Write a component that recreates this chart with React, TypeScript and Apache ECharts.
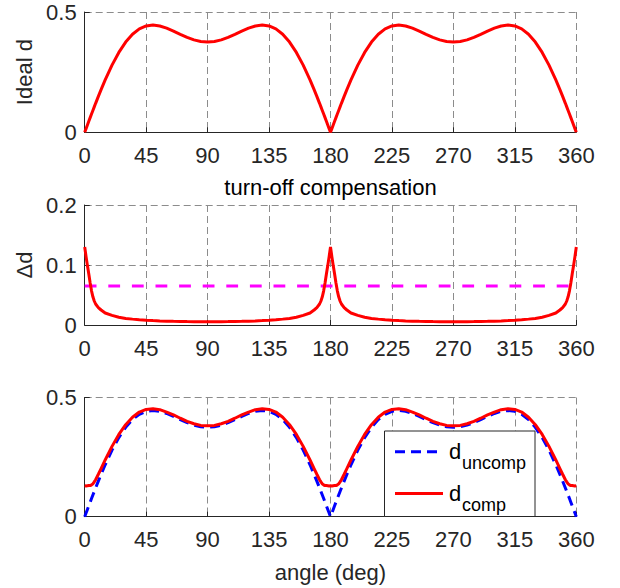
import React, { useEffect, useRef } from "react";
import * as echarts from "echarts";

// angle samples (deg)
const angles = [
  0, 1, 2, 3, 4, 5, 6, 7, 8, 10, 12, 15, 20, 25, 30, 35, 40, 45, 50, 55, 60, 65, 70, 75, 80, 85, 90,
  95, 100, 105, 110, 115, 120, 125, 130, 135, 140, 145, 150, 155, 160, 165, 168, 170, 172, 173, 174,
  175, 176, 177, 178, 179, 180,
  181, 182, 183, 184, 185, 186, 187, 188, 190, 192, 195, 200, 205, 210, 215, 220, 225, 230, 235, 240,
  245, 250, 255, 260, 265, 270, 275, 280, 285, 290, 295, 300, 305, 310, 315, 320, 325, 330, 335, 340,
  345, 348, 350, 352, 353, 354, 355, 356, 357, 358, 359, 360,
];

// Ideal d (also d_uncomp)
const idealD = [
  0, 0.0153, 0.0305, 0.0457, 0.0609, 0.076, 0.0909, 0.1057, 0.1204, 0.1493, 0.1774, 0.2178, 0.2793,
  0.332, 0.375, 0.4075, 0.4297, 0.4419, 0.4455, 0.442, 0.433, 0.4208, 0.4073, 0.3946, 0.3841, 0.3774,
  0.375, 0.3774, 0.3841, 0.3946, 0.4073, 0.4208, 0.433, 0.442, 0.4455, 0.4419, 0.4297, 0.4075, 0.375,
  0.332, 0.2793, 0.2178, 0.1774, 0.1493, 0.1204, 0.1057, 0.0909, 0.076, 0.0609, 0.0457, 0.0305, 0.0153, 0,
  0.0153, 0.0305, 0.0457, 0.0609, 0.076, 0.0909, 0.1057, 0.1204, 0.1493, 0.1774, 0.2178, 0.2793,
  0.332, 0.375, 0.4075, 0.4297, 0.4419, 0.4455, 0.442, 0.433, 0.4208, 0.4073, 0.3946, 0.3841, 0.3774,
  0.375, 0.3774, 0.3841, 0.3946, 0.4073, 0.4208, 0.433, 0.442, 0.4455, 0.4419, 0.4297, 0.4075, 0.375,
  0.332, 0.2793, 0.2178, 0.1774, 0.1493, 0.1204, 0.1057, 0.0909, 0.076, 0.0609, 0.0457, 0.0305, 0.0153, 0,
];

// Δd (turn-off compensation)
const deltaD = [
  0.13, 0.114, 0.099, 0.085, 0.07, 0.057, 0.047, 0.04, 0.035, 0.029, 0.025, 0.02, 0.016, 0.013, 0.011,
  0.0098, 0.0088, 0.008, 0.0073, 0.0068, 0.0064, 0.0061, 0.0059, 0.0057, 0.0056, 0.0055, 0.0055,
  0.0055, 0.0056, 0.0057, 0.0059, 0.0061, 0.0064, 0.0068, 0.0073, 0.008, 0.0088, 0.0098, 0.011, 0.013,
  0.016, 0.02, 0.025, 0.029, 0.035, 0.04, 0.047, 0.057, 0.07, 0.085, 0.099, 0.114, 0.13,
  0.114, 0.099, 0.085, 0.07, 0.057, 0.047, 0.04, 0.035, 0.029, 0.025, 0.02, 0.016, 0.013, 0.011,
  0.0098, 0.0088, 0.008, 0.0073, 0.0068, 0.0064, 0.0061, 0.0059, 0.0057, 0.0056, 0.0055, 0.0055,
  0.0055, 0.0056, 0.0057, 0.0059, 0.0061, 0.0064, 0.0068, 0.0073, 0.008, 0.0088, 0.0098, 0.011, 0.013,
  0.016, 0.02, 0.025, 0.029, 0.035, 0.04, 0.047, 0.057, 0.07, 0.085, 0.099, 0.114, 0.13,
];

// d_comp
const compD = [
  0.13, 0.129, 0.13, 0.131, 0.131, 0.133, 0.138, 0.146, 0.155, 0.178, 0.202, 0.238, 0.295, 0.345, 0.386,
  0.417, 0.439, 0.45, 0.453, 0.449, 0.439, 0.427, 0.413, 0.4, 0.39, 0.383, 0.381,
  0.383, 0.39, 0.4, 0.413, 0.427, 0.439, 0.449, 0.453, 0.45, 0.439, 0.417, 0.386, 0.345, 0.295, 0.238,
  0.202, 0.178, 0.155, 0.146, 0.138, 0.133, 0.131, 0.131, 0.13, 0.129, 0.13,
  0.129, 0.13, 0.131, 0.131, 0.133, 0.138, 0.146, 0.155, 0.178, 0.202, 0.238, 0.295, 0.345, 0.386,
  0.417, 0.439, 0.45, 0.453, 0.449, 0.439, 0.427, 0.413, 0.4, 0.39, 0.383, 0.381,
  0.383, 0.39, 0.4, 0.413, 0.427, 0.439, 0.449, 0.453, 0.45, 0.439, 0.417, 0.386, 0.345, 0.295, 0.238,
  0.202, 0.178, 0.155, 0.146, 0.138, 0.133, 0.131, 0.131, 0.13, 0.129, 0.13,
];

// dashed magenta reference level in Δd plot
const limitAngles = [0, 360];
const limitValues = [0.065, 0.065];

const xRange = [0, 360];
const xStep = 45;
const yRanges = [
  [0, 0.5, 0.5],
  [0, 0.2, 0.1],
  [0, 0.5, 0.5],
];
const yNames = ["Ideal d", "Δd", ""];
const titleText = "turn-off compensation";
const xName = "angle (deg)";
const legendNames = [
  ["d", "uncomp"],
  ["d", "comp"],
];

const FONT = "'Liberation Sans', Arial, Helvetica, sans-serif";
const AXIS = "#262626";
const GRID = "#8c8c8c";

function pairs(xs: number[], ys: number[]) {
  return xs.map((x, i) => [x, ys[i]]);
}

export default function App() {
  const ref = useRef<HTMLDivElement>(null);
  useEffect(() => {
    if (!ref.current) return;
    const chart = echarts.init(ref.current, null, { renderer: "svg" });
    const L = 84.7;
    const W = 491.6;
    const grids = [
      { left: L, top: 12, width: W, height: 120.3 },
      { left: L, top: 205, width: W, height: 120 },
      { left: L, top: 397.5, width: W, height: 119.2 },
    ];
    const xAxes = grids.map((_, i) => ({
      type: "value",
      gridIndex: i,
      min: xRange[0],
      max: xRange[1],
      interval: xStep,
      name: i === 2 ? xName : "",
      nameLocation: "middle",
      nameGap: 45,
      nameTextStyle: { fontSize: 22, color: AXIS, fontFamily: FONT },
      axisLine: { show: true, onZero: false, lineStyle: { color: AXIS, width: 1 } },
      axisTick: { show: true, inside: true, length: 5, lineStyle: { color: AXIS } },
      axisLabel: { color: AXIS, fontSize: 22, fontFamily: FONT, margin: 12 },
      splitLine: { show: true, lineStyle: { color: GRID, type: [7, 4], width: 1 } },
    }));
    const yAxes = grids.map((_, i) => ({
      type: "value",
      gridIndex: i,
      min: yRanges[i][0],
      max: yRanges[i][1],
      interval: yRanges[i][2],
      name: yNames[i],
      nameLocation: "middle",
      nameRotate: 90,
      nameGap: 47,
      nameTextStyle: { fontSize: 22, color: AXIS, fontFamily: FONT },
      axisLine: { show: true, onZero: false, lineStyle: { color: AXIS, width: 1 } },
      axisTick: { show: true, inside: true, length: 5, lineStyle: { color: AXIS } },
      axisLabel: { color: AXIS, fontSize: 22, fontFamily: FONT, margin: 8 },
      splitLine: { show: true, lineStyle: { color: GRID, type: [7, 4], width: 1 } },
    }));

    const lx = 395;
    const lx2 = 443;
    const ty = [451.7, 493.5];
    const legendGraphic: any[] = [
      {
        type: "rect",
        shape: { x: 384.5, y: 431, width: 150.5, height: 85.5 },
        style: { fill: "#ffffff", stroke: AXIS, lineWidth: 1 },
        z: 100,
      },
      {
        type: "line",
        shape: { x1: lx, y1: ty[0], x2: lx2, y2: ty[0] },
        style: { stroke: "#0000ff", lineWidth: 3, lineDash: [10, 6] },
        z: 101,
      },
      {
        type: "line",
        shape: { x1: lx, y1: ty[1], x2: lx2, y2: ty[1] },
        style: { stroke: "#ff0000", lineWidth: 3 },
        z: 101,
      },
    ];
    legendNames.forEach((nm, i) => {
      legendGraphic.push({
        type: "text",
        x: 449,
        y: ty[i],
        style: { text: nm[0], fontSize: 22, fontFamily: FONT, fill: "#000", verticalAlign: "middle", align: "left" },
        z: 102,
      });
      legendGraphic.push({
        type: "text",
        x: 462,
        y: ty[i] + 11,
        style: { text: nm[1], fontSize: 18, fontFamily: FONT, fill: "#000", verticalAlign: "middle", align: "left" },
        z: 102,
      });
    });

    chart.setOption({
      animation: false,
      backgroundColor: "#ffffff",
      title: {
        text: titleText,
        left: L + W / 2,
        top: 176,
        padding: 0,
        textAlign: "center",
        textStyle: { fontSize: 22, fontWeight: "normal", color: "#000", fontFamily: FONT },
      },
      grid: grids,
      xAxis: xAxes,
      yAxis: yAxes,
      series: [
        {
          type: "line",
          xAxisIndex: 0,
          yAxisIndex: 0,
          data: pairs(angles, idealD),
          showSymbol: false,
          symbol: "none",
          clip: false,
          lineStyle: { color: "#ff0000", width: 3 },
        },
        {
          type: "line",
          xAxisIndex: 1,
          yAxisIndex: 1,
          data: pairs(limitAngles, limitValues),
          showSymbol: false,
          symbol: "none",
          lineStyle: { color: "#ff00ff", width: 3, type: [11.8, 11.8] },
        },
        {
          type: "line",
          xAxisIndex: 1,
          yAxisIndex: 1,
          data: pairs(angles, deltaD),
          showSymbol: false,
          symbol: "none",
          clip: false,
          lineStyle: { color: "#ff0000", width: 3 },
        },
        {
          name: "uncomp",
          type: "line",
          xAxisIndex: 2,
          yAxisIndex: 2,
          data: pairs(angles, idealD),
          showSymbol: false,
          symbol: "none",
          clip: false,
          lineStyle: { color: "#0000ff", width: 3, type: [10, 6] },
        },
        {
          name: "comp",
          type: "line",
          xAxisIndex: 2,
          yAxisIndex: 2,
          data: pairs(angles, compD),
          showSymbol: false,
          symbol: "none",
          clip: false,
          lineStyle: { color: "#ff0000", width: 3 },
        },
      ],
      graphic: legendGraphic,
    });
    return () => chart.dispose();
  }, []);
  return (
    <div
      ref={ref}
      style={{ position: "fixed", left: 0, top: 0, width: 620, height: 588, background: "#ffffff" }}
    />
  );
}
